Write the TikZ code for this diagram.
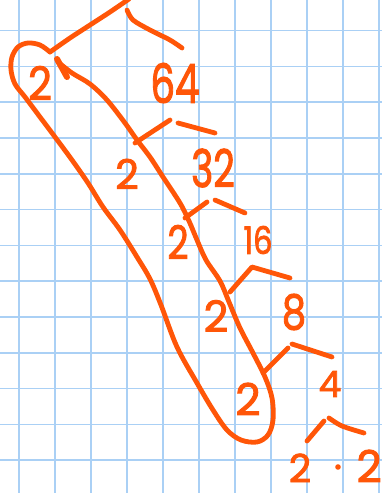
\documentclass[tikz,border=0pt]{standalone}
\usepackage{fontspec}
\setmainfont{Poppins}
\newfontfamily\handfont[FakeBold=2.2]{Poppins}
\definecolor{ink}{RGB}{255,86,8}
\definecolor{gridblue}{RGB}{170,208,245}
\tikzset{
  pen/.style={draw=ink, line width=4.8pt, line cap=round, line join=round},
  digit/.style={text=ink, inner sep=0pt, anchor=center, font=\handfont\fontsize{#1}{#1}\selectfont},
}
\begin{document}
\begin{tikzpicture}[x=1pt,y=-1pt]
\useasboundingbox (0,0) rectangle (382,493);
\fill[white] (0,0) rectangle (382,493);
% grid
\foreach \i in {0,...,10} {\draw[gridblue, line width=1.6pt] ({19+36*\i},0) -- ({19+36*\i},493);}
\foreach \j in {0,...,12} {\draw[gridblue, line width=1.6pt] (0,{30.5+35.8*\j}) -- (382,{30.5+35.8*\j});}

% named points
\coordinate (top) at (128,0);
\coordinate (n2a) at (50,52);
\coordinate (b64a) at (135,143); \coordinate (b64b) at (170,120);
\coordinate (b64c) at (178,123); \coordinate (b64d) at (215,133);
\coordinate (b32a) at (185,218); \coordinate (b32b) at (207,202);
\coordinate (b32c) at (215,200); \coordinate (b32d) at (245,213);
\coordinate (b16a) at (230,292); \coordinate (b16b) at (252,267); \coordinate (b16c) at (290,278);
\coordinate (b8a) at (263,373); \coordinate (b8b) at (288,348);
\coordinate (b8c) at (292,344); \coordinate (b8d) at (332,357);
\coordinate (b4a) at (307,441); \coordinate (b4b) at (324,421);
\coordinate (b4c) at (329,418); \coordinate (b4d) at (364,433);

% top strokes
\draw[pen] plot[smooth] coordinates {(129,-1) (110,12) (90,25) (70,38) (n2a)};
\draw[pen] plot[smooth] coordinates {(127,10) (133,20) (150,30) (170,40) (182,48)};

% loop (circled 2s)
\draw[pen] plot[smooth, tension=0.55] coordinates {(n2a) (40,45) (28,43) (18,47) (12,57) (11,70) (15,84) (25,97) (40,117) (55,137) (72,160) (88,183) (103,207) (120,230) (137,257) (150,279) (161,305) (177,347) (197,383) (213,410) (227,430) (241,440) (257,442) (268,435) (273,420) (272,398) (265,377) (253,353) (240,328) (229,302) (220,281) (206,260) (197,240) (189,221) (180,203) (163,177) (150,157) (137,140) (125,123) (107,100) (90,84) (72,73) (58,62)};
\draw[pen, line width=6pt] (57,59) -- (67,77);

% branches
\draw[pen] (b64a) -- (b64b);
\draw[pen] (b64c) -- (b64d);
\draw[pen] (b32a) -- (b32b);
\draw[pen] (b32c) -- (b32d);
\draw[pen] (b16a) -- (b16b) -- (b16c);
\draw[pen] (b8a) -- (b8b);
\draw[pen] (b8c) -- (b8d);
\draw[pen] (b4a) -- (b4b);
\draw[pen] plot[smooth] coordinates {(b4c) (342,426) (b4d)};

% numbers
\node[digit=46] (t2a) at (40,83) {\scalebox{0.9}[1]{2}};
\node[digit=54] (t64) at (175,83) {\scalebox{0.72}[1]{64}};
\node[digit=41] (t2b) at (127,174) {2};
\node[digit=52] (t32) at (213,168) {\scalebox{0.72}[1]{32}};
\node[digit=46] (t2c) at (178,242) {\scalebox{0.8}[1]{2}};
\node[digit=38] (t16) at (258,240) {\scalebox{0.8}[1]{16}};
\node[digit=43] (t2d) at (216,316) {2};
\node[digit=48] (t8) at (294,312) {\scalebox{0.8}[1]{8}};
\node[digit=44] (t2e) at (248,399) {2};
\node[digit=36] (t4) at (330,384) {4};
\node[digit=39] (t2f) at (300,468) {2};
\fill[ink] (338,467) circle (2.8);
\node[digit=44, anchor=east] (t2g) at (382,466) {2};
\end{tikzpicture}
\end{document}
